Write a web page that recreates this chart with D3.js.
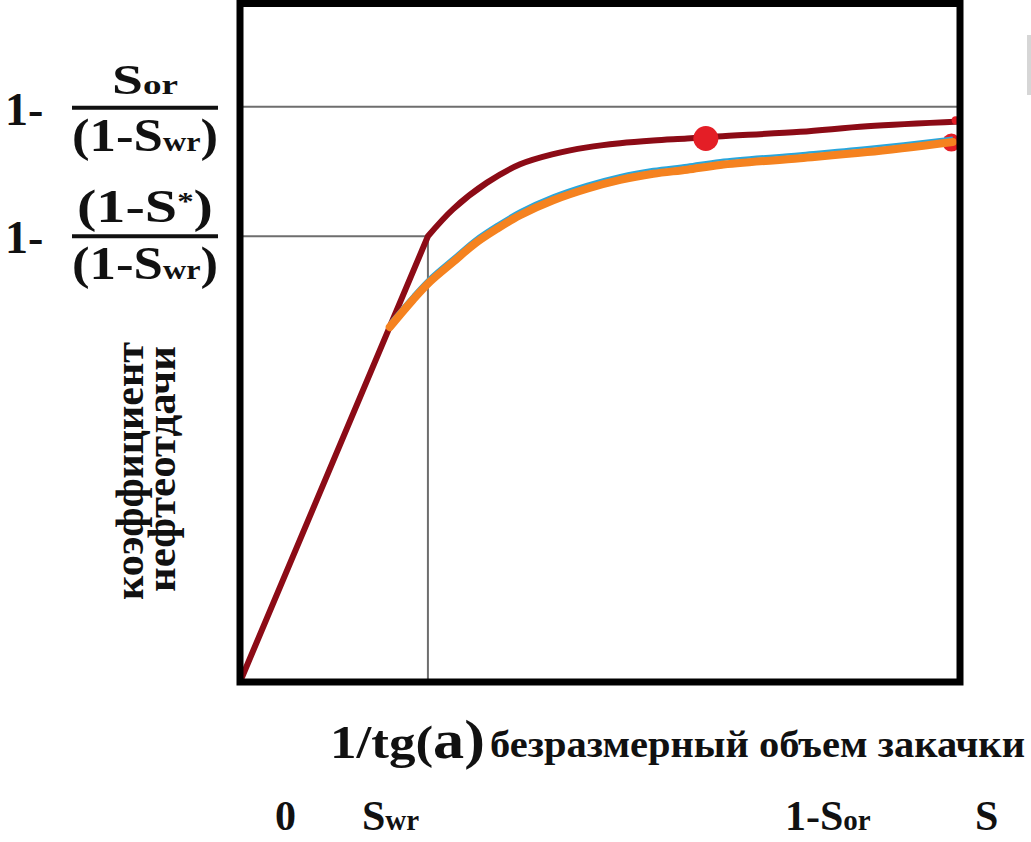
<!DOCTYPE html>
<html>
<head>
<meta charset="utf-8">
<script src="https://cdn.jsdelivr.net/npm/d3@7/dist/d3.min.js"></script>
<style>
  html, body { margin: 0; padding: 0; background: #fff; }
  svg { display: block; }
  text { font-family: "Liberation Serif", "Times New Roman", serif; font-weight: bold; fill: #111; }
</style>
</head>
<body>
<svg id="chart" width="1031" height="842"></svg>
<script>
// Dimensionless injected volume (x) vs. oil recovery factor (y)
const swr = 0.261;              // breakthrough point
const yUltimate = 0.848;        // 1 - Sor/(1-Swr)
const yBreakthrough = 0.657;    // 1 - (1-S*)/(1-Swr)

// Analytical recovery curve: linear until breakthrough, then flattening
const recoveryX = [0, 0.261, 0.296, 0.343, 0.389, 0.435, 0.482, 0.528, 0.574, 0.621, 0.663, 0.778, 0.871, 1.0];
const recoveryY = [0, 0.657, 0.697, 0.736, 0.763, 0.778, 0.788, 0.794, 0.798, 0.801, 0.804, 0.811, 0.819, 0.826];

// Simulated recovery (two nearly coincident runs)
const simX       = [0.208, 0.240, 0.264, 0.296, 0.326, 0.357, 0.389, 0.435, 0.482, 0.528, 0.574, 0.621, 0.667, 0.778, 0.871, 0.990];
const simBlueY   = [0.530, 0.570, 0.597, 0.626, 0.653, 0.675, 0.695, 0.717, 0.734, 0.747, 0.756, 0.762, 0.769, 0.779, 0.788, 0.802];
const simOrangeY = [0.523, 0.563, 0.590, 0.619, 0.646, 0.668, 0.688, 0.710, 0.727, 0.740, 0.749, 0.755, 0.762, 0.772, 0.781, 0.796];

// Highlighted points
const markerX = [0.647, 0.988, 0.994];
const markerY = [0.801, 0.795, 0.828];
const markerR = [12.5, 9, 4];

const svg = d3.select("#chart");
const x = d3.scaleLinear().domain([0, 1]).range([240, 960]);
const y = d3.scaleLinear().domain([0, 1]).range([682, 3.5]);

// Reference lines
const g = svg.append("g");
const refColor = "#6e6e6e";
g.append("line").attr("x1", x(0)).attr("x2", x(1)).attr("y1", y(yUltimate)).attr("y2", y(yUltimate))
  .attr("stroke", refColor).attr("stroke-width", 2);
g.append("line").attr("x1", x(0)).attr("x2", x(swr)).attr("y1", y(yBreakthrough)).attr("y2", y(yBreakthrough))
  .attr("stroke", refColor).attr("stroke-width", 2);
g.append("line").attr("x1", x(swr)).attr("x2", x(swr)).attr("y1", y(yBreakthrough)).attr("y2", y(0))
  .attr("stroke", refColor).attr("stroke-width", 2);

const smooth = d3.line().x(d => x(d[0])).y(d => y(d[1])).curve(d3.curveCatmullRom.alpha(0.5));
const straight = d3.line().x(d => x(d[0])).y(d => y(d[1]));

// Analytical curve: straight segment plus smooth tail
const tail = recoveryX.slice(1).map((v, i) => [v, recoveryY[i + 1]]);
g.append("path")
  .attr("d", straight([[recoveryX[0], recoveryY[0]], [recoveryX[1], recoveryY[1]]]) + smooth(tail).replace(/^M/, "L"))
  .attr("fill", "none").attr("stroke", "#8c0b16").attr("stroke-width", 6).attr("stroke-linejoin", "round");

// End markers sit beneath the simulated curves
g.append("circle").attr("cx", x(markerX[2])).attr("cy", y(markerY[2])).attr("r", markerR[2]).attr("fill", "#e41e26");
g.append("circle").attr("cx", x(markerX[1])).attr("cy", y(markerY[1])).attr("r", markerR[1]).attr("fill", "#e41e26");

g.append("path").attr("d", smooth(simX.map((v, i) => [v, simBlueY[i]])))
  .attr("fill", "none").attr("stroke", "#2aa6dc").attr("stroke-width", 2.5);
g.append("path").attr("d", smooth(simX.map((v, i) => [v, simOrangeY[i]])))
  .attr("fill", "none").attr("stroke", "#f5821f").attr("stroke-width", 8).attr("stroke-linecap", "round");

g.append("circle").attr("cx", x(markerX[0])).attr("cy", y(markerY[0])).attr("r", markerR[0]).attr("fill", "#e41e26");

// Plot frame
g.append("rect").attr("x", x(0)).attr("y", y(1)).attr("width", x(1) - x(0)).attr("height", y(0) - y(1))
  .attr("fill", "none").attr("stroke", "#000").attr("stroke-width", 7);

// Left-hand level labels
function frac(cy, numParts, numLen, denParts, denLen) {
  svg.append("text").attr("x", 5).attr("y", cy + 17).attr("font-size", 46).text("1-");
  const n = svg.append("text").attr("x", 145).attr("y", cy - 14).attr("text-anchor", "middle")
    .attr("textLength", numLen).attr("lengthAdjust", "spacingAndGlyphs");
  numParts.forEach(p => n.append("tspan").attr("font-size", p[1]).attr("dy", p[2] || 0).text(p[0]));
  svg.append("line").attr("x1", 72).attr("x2", 218).attr("y1", cy).attr("y2", cy)
    .attr("stroke", "#111").attr("stroke-width", 4);
  const d = svg.append("text").attr("x", 145).attr("y", cy + 43).attr("text-anchor", "middle")
    .attr("textLength", denLen).attr("lengthAdjust", "spacingAndGlyphs");
  denParts.forEach(p => d.append("tspan").attr("font-size", p[1]).text(p[0]));
}
frac(y(yUltimate) + 1, [["S", 42], ["or", 28]], 66, [["(1-S", 46], ["wr", 28], [")", 46]], 146);
frac(y(yBreakthrough), [["(1-S", 46], ["*", 26, -12], [")", 46, 12]], 136, [["(1-S", 46], ["wr", 28], [")", 46]], 146);

// Vertical axis title
svg.append("text").attr("transform", "translate(143,600) rotate(-90)")
  .attr("font-size", 40).attr("textLength", 258).attr("lengthAdjust", "spacingAndGlyphs").text("коэффициент");
svg.append("text").attr("transform", "translate(175,592) rotate(-90)")
  .attr("font-size", 40).attr("textLength", 246).attr("lengthAdjust", "spacingAndGlyphs").text("нефтеотдачи");

// Horizontal axis title
const t = svg.append("text").attr("x", 330).attr("y", 758).attr("textLength", 155).attr("lengthAdjust", "spacingAndGlyphs");
t.append("tspan").attr("font-size", 46).text("1/tg(");
t.append("tspan").attr("font-size", 54).text("a)");
svg.append("text").attr("x", 490).attr("y", 757).attr("font-size", 38)
  .attr("textLength", 535).attr("lengthAdjust", "spacingAndGlyphs").text("безразмерный объем закачки");

// Bottom saturation labels
const bottomLabels = [["0", null, 275], ["S", "wr", 362], ["1-S", "or", 785], ["S", null, 975]];
bottomLabels.forEach(l => {
  const tx = svg.append("text").attr("x", l[2]).attr("y", 830);
  tx.append("tspan").attr("font-size", 42).text(l[0]);
  if (l[1]) tx.append("tspan").attr("font-size", 29).text(l[1]);
});

// Edge fragment at the right border
svg.append("rect").attr("x", 1027).attr("y", 35).attr("width", 4).attr("height", 60).attr("fill", "#d6d6d6");
</script>
</body>
</html>
